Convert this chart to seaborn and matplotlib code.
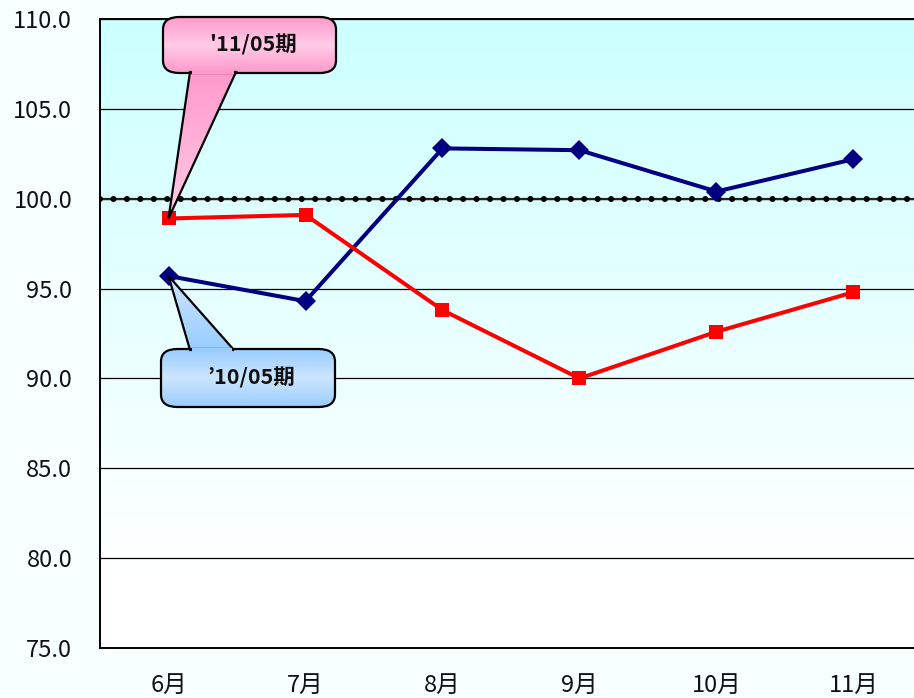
import numpy as np
import pandas as pd
import matplotlib
matplotlib.use("Agg")
import matplotlib.pyplot as plt
import seaborn as sns
from matplotlib.patches import FancyBboxPatch, Polygon
import matplotlib.colors as mcolors

months = ["6月", "7月", "8月", "9月", "10月", "11月"]
series_10 = [95.7, 94.3, 102.8, 102.7, 100.4, 102.2]   # '10/05期 (navy)
series_11 = [98.9, 99.1, 93.8, 90.0, 92.6, 94.8]       # '11/05期 (red)
label_10 = "’10/05期"
label_11 = "'11/05期"
y_ticks = [75, 80, 85, 90, 95, 100, 105, 110]
baseline = 100.0

sns.set_theme(style="white")
plt.rcParams['font.family'] = ['Noto Sans CJK JP', 'DejaVu Sans']

W, H = 914, 698
fig = plt.figure(figsize=(W / 100, H / 100), dpi=100)
fig.patch.set_facecolor("#F7FFFF")

left, right, top, bottom = 100, 100 + 6 * 137, 19, 648
ax = fig.add_axes([left / W, 1 - bottom / H, (right - left) / W, (bottom - top) / H])

df = pd.DataFrame({
    "x": list(range(len(months))) * 2,
    "value": series_10 + series_11,
    "series": [label_10] * len(months) + [label_11] * len(months),
})

# gradient background inside plot area
grad = np.linspace(0, 1, 256).reshape(-1, 1)
cmap = mcolors.LinearSegmentedColormap.from_list(
    "bg", [(0, "#FFFFFF"), (0.12, "#FFFFFF"), (1, "#CCFFFF")])
ax.imshow(grad, aspect="auto", cmap=cmap, origin="lower",
          extent=[-0.5, 5.5, 75, 110], zorder=0)

for yv in y_ticks:
    ax.axhline(yv, color="black", lw=0.9, zorder=1)

# baseline 100 with dots
ax.axhline(baseline, color="#222222", lw=1.6, zorder=2)
ax.axhline(baseline, color="black", lw=4.4, linestyle=(0, (0.001, 2.2)),
           dash_capstyle="round", zorder=2)

sns.lineplot(data=df, x="x", y="value", hue="series", style="series",
             palette={label_10: "#000080", label_11: "#FF0000"},
             markers={label_10: "D", label_11: "s"},
             dashes=False, markersize=10, markeredgewidth=0, linewidth=2.9,
             legend=False, ax=ax, zorder=5)

ax.set_xlim(-0.5, 5.5)
ax.set_ylim(75, 110)
ax.set_xticks(np.arange(len(months)))
ax.set_xticklabels(months, fontsize=17)
ax.set_xticks(np.arange(0.5, len(months) - 0.5), minor=True)
ax.set_yticks(y_ticks)
ax.set_yticklabels([f"{v:.1f}" for v in y_ticks], fontsize=17)
ax.set_xlabel("")
ax.set_ylabel("")
ax.tick_params(axis="x", which="major", length=0, pad=19)
ax.tick_params(axis="x", which="minor", direction="in", length=7, width=1, color="black")
ax.tick_params(axis="y", length=0, pad=20)
for lbl in ax.get_xticklabels() + ax.get_yticklabels():
    lbl.set_color("#111111")

for s in ["left", "bottom", "top"]:
    ax.spines[s].set_visible(True)
    ax.spines[s].set_color("black")
    ax.spines[s].set_linewidth(1.4)
ax.spines["right"].set_visible(False)
ax.set_facecolor("none")

# overlay axes in figure coordinates for the callouts
ov = fig.add_axes([0, 0, 1, 1], facecolor="none")
ov.set_xlim(0, 1); ov.set_ylim(0, 1); ov.axis("off")
ov.set_zorder(10)


def callout(box, tail, tip_idx, tip_val, text, colors):
    x0, y0, x1, y1 = box
    fx0, fy1 = x0 / W, 1 - y1 / H
    fw, fh = (x1 - x0) / W, (y1 - y0) / H
    tip_disp = ax.transData.transform((tip_idx, tip_val))
    tip_fig = fig.transFigure.inverted().transform(tip_disp)
    bx0, bx1, by = tail
    byf = 1 - by / H
    cm = mcolors.LinearSegmentedColormap.from_list("c", colors)
    g = np.concatenate([np.linspace(0, 1, 128), np.linspace(1, 0, 128)]).reshape(-1, 1)
    img = ov.imshow(g, cmap=cm, aspect="auto", origin="lower",
                    extent=[fx0, fx0 + fw, fy1, fy1 + fh], zorder=1)
    img.set_clip_path(FancyBboxPatch((fx0, fy1), fw, fh, transform=ov.transData,
                                     boxstyle="round,pad=0,rounding_size=0.018"))
    tymin, tymax = min(tip_fig[1], byf), max(tip_fig[1], byf)
    tg = np.linspace(0, 1, 256).reshape(-1, 1)
    img2 = ov.imshow(tg if tip_fig[1] > byf else tg[::-1], cmap=cm, aspect="auto",
                     origin="lower",
                     extent=[min(bx0 / W, tip_fig[0]) - 0.01, max(bx1 / W, tip_fig[0]) + 0.01,
                             tymin, tymax], zorder=1)
    img2.set_clip_path(Polygon([(bx0 / W, byf), tip_fig, (bx1 / W, byf)],
                               closed=True, transform=ov.transData))
    ov.set_xlim(0, 1); ov.set_ylim(0, 1)
    ov.add_patch(FancyBboxPatch((fx0, fy1), fw, fh,
                                boxstyle="round,pad=0,rounding_size=0.018",
                                facecolor="none", edgecolor="black", lw=1.6, zorder=3))
    ov.add_patch(Polygon([(bx0 / W, byf), tip_fig, (bx1 / W, byf)],
                         closed=True, facecolor="none", edgecolor="black", lw=1.6, zorder=3,
                         joinstyle="miter"))
    ov.plot([bx0 / W + 0.002, bx1 / W - 0.002], [byf, byf],
            color=cm(0.0), lw=3, zorder=4, solid_capstyle="butt")
    ov.text(fx0 + fw / 2 + 0.004, fy1 + fh / 2, text, ha="center", va="center",
            fontsize=15.5, fontweight="bold", color="#111111", zorder=5)


callout((163, 17, 336, 73), (190, 236, 72), 0, series_11[0], label_11,
        ["#FF99CC", "#FFCCE6"])
callout((161, 349, 335, 407), (190, 234, 350), 0, series_10[0], label_10,
        ["#99CCFF", "#CCE6FF"])

fig.savefig("out.png", dpi=100, facecolor=fig.get_facecolor())
